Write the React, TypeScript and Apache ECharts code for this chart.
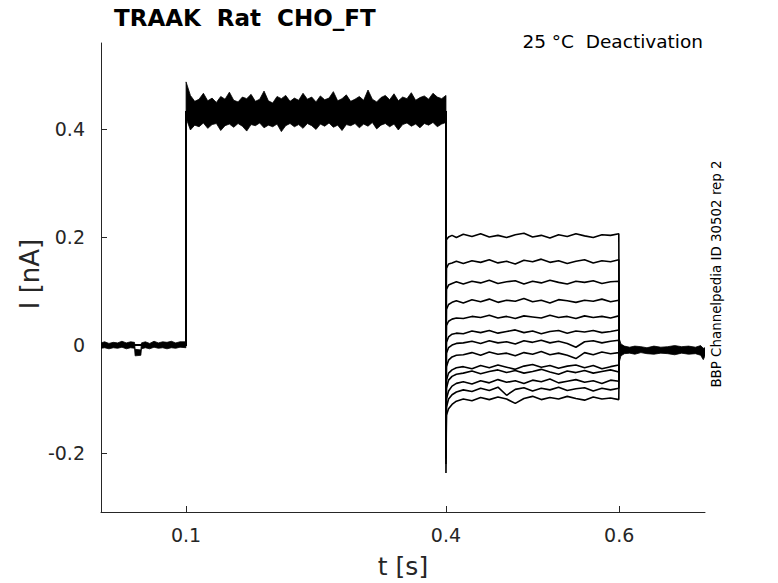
import React, { useEffect, useRef } from "react";
import * as echarts from "echarts";

// ---- axis ranges & ticks ----
const xRange = [0.0018, 0.699];
const yRange = [-0.309, 0.559];
const xTicks = [0.1, 0.4, 0.6];
const yTicks = [-0.2, 0, 0.2, 0.4];

// ---- protocol times ----
const stepOn = 0.1;
const stepTest = 0.4;
const stepOff = 0.6;
const condLevel = 0.432;
const tailLevel = -0.01;

// ---- test-pulse sample times (s) ----
const testTimes = [0.4005, 0.403, 0.407, 0.412, 0.42, 0.43, 0.44, 0.45, 0.46, 0.47, 0.48, 0.49, 0.5, 0.51, 0.52, 0.53, 0.54, 0.55, 0.56, 0.57, 0.58, 0.59, 0.5995];

// ---- test-pulse currents per sweep (nA) ----
const sweep1 = [0.195, 0.2, 0.203, 0.199, 0.205, 0.201, 0.206, 0.2, 0.203, 0.199, 0.204, 0.207, 0.2, 0.203, 0.198, 0.204, 0.201, 0.206, 0.202, 0.199, 0.204, 0.203, 0.206];
const sweep2 = [0.142, 0.15, 0.152, 0.155, 0.151, 0.156, 0.153, 0.158, 0.152, 0.155, 0.15, 0.157, 0.154, 0.159, 0.153, 0.156, 0.151, 0.155, 0.158, 0.152, 0.156, 0.154, 0.158];
const sweep3 = [0.103, 0.111, 0.114, 0.117, 0.113, 0.118, 0.115, 0.12, 0.114, 0.117, 0.119, 0.113, 0.118, 0.115, 0.12, 0.116, 0.113, 0.118, 0.116, 0.119, 0.114, 0.117, 0.118];
const sweep4 = [0.066, 0.075, 0.079, 0.082, 0.078, 0.084, 0.08, 0.085, 0.079, 0.083, 0.081, 0.086, 0.08, 0.083, 0.078, 0.084, 0.082, 0.079, 0.083, 0.081, 0.085, 0.08, 0.083];
const sweep5 = [0.036, 0.044, 0.048, 0.05, 0.049, 0.053, 0.051, 0.055, 0.05, 0.053, 0.049, 0.054, 0.052, 0.05, 0.055, 0.051, 0.053, 0.049, 0.054, 0.051, 0.053, 0.05, 0.054];
const sweep6 = [0.005, 0.015, 0.02, 0.022, 0.021, 0.026, 0.023, 0.027, 0.022, 0.025, 0.028, 0.023, 0.026, 0.021, 0.025, 0.027, 0.022, 0.026, 0.024, 0.027, 0.023, 0.025, 0.028];
const sweep7 = [-0.015, -0.005, 0.0, 0.003, 0.004, 0.007, 0.003, 0.008, 0.004, 0.006, 0.002, 0.008, 0.005, 0.009, 0.004, 0.007, 0.003, -0.004, 0.006, 0.008, 0.004, 0.007, 0.009];
const sweep8 = [-0.04, -0.028, -0.022, -0.019, -0.018, -0.014, -0.019, -0.013, -0.017, -0.015, -0.02, -0.014, -0.017, -0.012, -0.018, -0.015, -0.019, -0.025, -0.014, -0.018, -0.013, -0.016, -0.014];
const sweep9 = [-0.065, -0.052, -0.046, -0.042, -0.04, -0.044, -0.038, -0.042, -0.037, -0.041, -0.045, -0.039, -0.036, -0.041, -0.038, -0.043, -0.039, -0.037, -0.042, -0.038, -0.044, -0.04, -0.037];
const sweep10 = [-0.08, -0.065, -0.058, -0.054, -0.052, -0.048, -0.053, -0.049, -0.046, -0.051, -0.047, -0.052, -0.049, -0.045, -0.05, -0.054, -0.048, -0.051, -0.047, -0.052, -0.049, -0.046, -0.05];
const sweep11 = [-0.1, -0.085, -0.076, -0.071, -0.068, -0.072, -0.066, -0.07, -0.064, -0.069, -0.066, -0.071, -0.065, -0.068, -0.063, -0.07, -0.067, -0.064, -0.069, -0.066, -0.071, -0.065, -0.067];
const sweep12 = [-0.115, -0.1, -0.092, -0.087, -0.083, -0.086, -0.08, -0.084, -0.078, -0.093, -0.082, -0.079, -0.085, -0.08, -0.083, -0.078, -0.084, -0.081, -0.079, -0.085, -0.08, -0.083, -0.08];
const sweep13 = [-0.13, -0.118, -0.11, -0.104, -0.1, -0.103, -0.097, -0.101, -0.096, -0.1, -0.108, -0.099, -0.095, -0.101, -0.097, -0.1, -0.095, -0.099, -0.102, -0.096, -0.1, -0.098, -0.101];
const sweeps = [sweep1, sweep2, sweep3, sweep4, sweep5, sweep6, sweep7, sweep8, sweep9, sweep10, sweep11, sweep12, sweep13];
// capacitive spike at the start of the test pulse (nA)
const sweepSpikes = [-0.02, -0.05, -0.08, -0.1, -0.12, -0.14, -0.16, -0.17, -0.19, -0.2, -0.21, -0.22, -0.237];

// ---- noise envelope of overlapping sweeps: holding period ----
const preTimes = [0.0018, 0.006, 0.011, 0.016, 0.021, 0.026, 0.031, 0.036, 0.0405, 0.0412, 0.0478, 0.0485, 0.053, 0.058, 0.063, 0.068, 0.073, 0.078, 0.083, 0.088, 0.093, 0.0998];
const preUpper = [0.004, 0.006, 0.003, 0.005, 0.004, 0.007, 0.004, 0.006, 0.005, -0.008, -0.009, 0.004, 0.006, 0.003, 0.007, 0.004, 0.006, 0.005, 0.007, 0.004, 0.006, 0.006];
const preLower = [-0.006, -0.005, -0.007, -0.005, -0.006, -0.004, -0.007, -0.005, -0.006, -0.02, -0.019, -0.007, -0.005, -0.007, -0.004, -0.006, -0.005, -0.007, -0.005, -0.006, -0.004, -0.005];

// ---- noise envelope: conditioning pulse (0.1 .. 0.4 s, every 5 ms) ----
const condStart = 0.1;
const condStep = 0.005;
const condUpper = [0.487, 0.462, 0.451, 0.455, 0.466, 0.452, 0.457, 0.449, 0.46, 0.455, 0.468, 0.453, 0.45, 0.459, 0.456, 0.464, 0.451, 0.455, 0.47, 0.452, 0.448, 0.46, 0.456, 0.462, 0.451, 0.457, 0.453, 0.466, 0.455, 0.459, 0.45, 0.461, 0.454, 0.457, 0.469, 0.452, 0.456, 0.463, 0.451, 0.455, 0.46, 0.453, 0.472, 0.455, 0.45, 0.458, 0.462, 0.454, 0.465, 0.452, 0.459, 0.456, 0.467, 0.453, 0.458, 0.461, 0.455, 0.466, 0.459, 0.456, 0.462];
const condLower = [0.42, 0.398, 0.407, 0.404, 0.411, 0.401, 0.408, 0.41, 0.397, 0.406, 0.409, 0.403, 0.41, 0.405, 0.396, 0.408, 0.406, 0.411, 0.402, 0.407, 0.404, 0.409, 0.395, 0.406, 0.41, 0.404, 0.408, 0.401, 0.41, 0.406, 0.399, 0.409, 0.405, 0.411, 0.403, 0.407, 0.397, 0.408, 0.406, 0.41, 0.402, 0.409, 0.405, 0.412, 0.4, 0.407, 0.41, 0.404, 0.409, 0.398, 0.408, 0.411, 0.405, 0.409, 0.402, 0.41, 0.407, 0.412, 0.404, 0.409, 0.412];

// ---- noise envelope: tail after the test pulse ----
const tailTimes = [0.6, 0.602, 0.606, 0.612, 0.618, 0.625, 0.632, 0.64, 0.648, 0.656, 0.664, 0.672, 0.68, 0.688, 0.694, 0.697, 0.699];
const tailUpper = [0.012, 0.002, -0.002, -0.004, -0.002, -0.003, -0.005, -0.002, -0.004, -0.003, -0.001, -0.003, -0.002, -0.004, -0.001, -0.006, -0.005];
const tailLower = [-0.032, -0.02, -0.016, -0.015, -0.017, -0.014, -0.016, -0.017, -0.015, -0.016, -0.018, -0.015, -0.017, -0.016, -0.019, -0.027, -0.02];

const FONT = "'DejaVu Sans', 'Noto Sans', sans-serif";
const AXIS_COLOR = "#262626";

function bandSeries(times: number[], upper: number[], lower: number[]) {
  return {
    type: "custom",
    silent: true,
    clip: true,
    z: 3,
    data: [[times[0], upper[0]]],
    renderItem: (_params: any, api: any) => {
      const top = times.map((t, i) => api.coord([t, upper[i]]));
      const bot = times.map((t, i) => api.coord([t, lower[i]])).reverse();
      return {
        type: "polygon",
        shape: { points: top.concat(bot) },
        style: { fill: "#000", stroke: "#000", lineWidth: 0.8 },
      };
    },
  };
}

export default function App() {
  const ref = useRef<HTMLDivElement>(null);

  useEffect(() => {
    if (!ref.current) return;
    const chart = echarts.init(ref.current, undefined, { renderer: "svg" });

    const condTimes = condUpper.map((_, i) => condStart + i * condStep);

    const lineSeries = sweeps.map((vals, k) => {
      const data: number[][] = [
        [xRange[0], 0],
        [stepOn, 0],
        [stepOn, condLevel],
        [stepTest, condLevel],
        [stepTest, sweepSpikes[k]],
      ];
      testTimes.forEach((t, j) => data.push([t, vals[j]]));
      data.push([stepOff, vals[vals.length - 1]]);
      data.push([stepOff, tailLevel]);
      data.push([xRange[1], tailLevel]);
      return {
        type: "line",
        data,
        showSymbol: false,
        silent: true,
        clip: true,
        z: 2,
        lineStyle: { color: "#000", width: 1.6 },
      };
    });

    const option: any = {
      animation: false,
      backgroundColor: "#fff",
      grid: { left: 101, right: 73, top: 43, bottom: 71, containLabel: false },
      xAxis: {
        type: "value",
        min: xRange[0],
        max: xRange[1],
        splitLine: { show: false },
        axisLine: { show: true, onZero: false, lineStyle: { color: AXIS_COLOR, width: 1 } },
        axisTick: { show: true, inside: true, length: 6, customValues: xTicks, lineStyle: { color: AXIS_COLOR } },
        axisLabel: {
          customValues: xTicks,
          margin: 13,
          fontFamily: FONT,
          fontSize: 19,
          color: AXIS_COLOR,
          formatter: (v: number) => String(Math.round(v * 10) / 10),
        },
      },
      yAxis: {
        type: "value",
        min: yRange[0],
        max: yRange[1],
        splitLine: { show: false },
        axisLine: { show: true, onZero: false, lineStyle: { color: AXIS_COLOR, width: 1 } },
        axisTick: { show: true, inside: true, length: 6, customValues: yTicks, lineStyle: { color: AXIS_COLOR } },
        axisLabel: {
          customValues: yTicks,
          margin: 16,
          fontFamily: FONT,
          fontSize: 19,
          color: AXIS_COLOR,
          formatter: (v: number) => {
            const r = Math.round(v * 10) / 10;
            return r === 0 ? "0" : String(r);
          },
        },
      },
      graphic: [
        {
          type: "text",
          x: 114,
          y: 18,
          style: { text: "TRAAK  Rat  CHO_FT", font: `bold 23px ${FONT}`, fill: "#000", align: "left", verticalAlign: "middle" },
        },
        {
          type: "text",
          x: 703,
          y: 41,
          style: { text: "25 °C  Deactivation", font: `18.5px ${FONT}`, fill: "#000", align: "right", verticalAlign: "middle" },
        },
        {
          type: "text",
          x: 716,
          y: 274,
          rotation: Math.PI / 2,
          style: { text: "BBP Channelpedia ID 30502 rep 2", font: `13.4px ${FONT}`, fill: "#000", align: "center", verticalAlign: "middle" },
        },
        {
          type: "text",
          x: 30,
          y: 274,
          rotation: Math.PI / 2,
          style: { text: "I [nA]", font: `26px ${FONT}`, fill: AXIS_COLOR, align: "center", verticalAlign: "middle" },
        },
        {
          type: "text",
          x: 403,
          y: 566,
          style: { text: "t [s]", font: `25px ${FONT}`, fill: AXIS_COLOR, align: "center", verticalAlign: "middle" },
        },
      ],
      series: [
        ...lineSeries,
        bandSeries(preTimes, preUpper, preLower),
        bandSeries(condTimes, condUpper, condLower),
        bandSeries(tailTimes, tailUpper, tailLower),
      ],
    };

    chart.setOption(option);
    return () => chart.dispose();
  }, []);

  return <div ref={ref} style={{ width: 778, height: 583, position: "absolute", left: 0, top: 0 }} />;
}
